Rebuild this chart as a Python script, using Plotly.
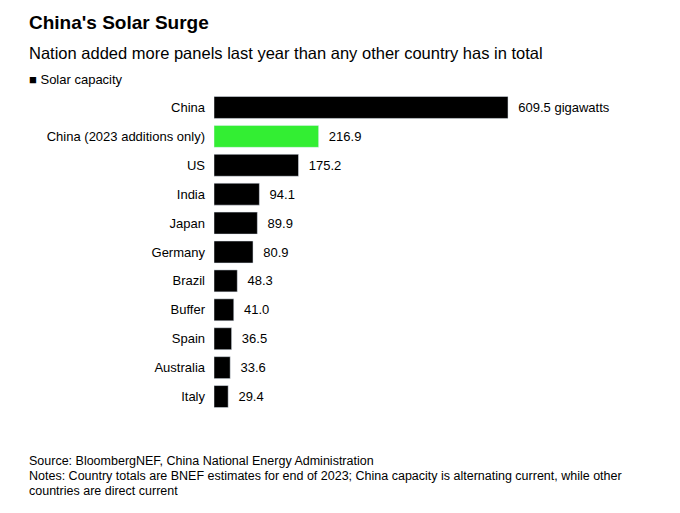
import plotly.graph_objects as go

categories = ["China", "China (2023 additions only)", "US", "India", "Japan", "Germany",
              "Brazil", "Buffer", "Spain", "Australia", "Italy"]
values = [609.5, 216.9, 175.2, 94.1, 89.9, 80.9, 48.3, 41.0, 36.5, 33.6, 29.4]
labels = ["609.5 gigawatts", "216.9", "175.2", "94.1", "89.9", "80.9", "48.3", "41.0", "36.5", "33.6", "29.4"]
colors = ["#000000", "#33ee33"] + ["#000000"] * 9

OFF = 8
fig = go.Figure(go.Bar(
    y=categories, x=values, orientation="h", marker_color=colors,
    text=["  " + t for t in labels], textposition="outside", cliponaxis=False,
    textfont=dict(size=13, color="#000"), showlegend=False,
))
font = "Liberation Sans, Arial, sans-serif"
L, T, B = 214 - OFF, 92.5 - OFF, 101.5 + OFF
PW, PH = 680 - L, 513 - T - B
fig.update_layout(
    width=680, height=513, plot_bgcolor="white", paper_bgcolor="white",
    margin=dict(l=L, r=0, t=T, b=B),
    font=dict(family=font, color="#000"),
    bargap=0.24,
    xaxis=dict(range=[0, PW / 0.4824], visible=False),
    yaxis=dict(autorange="reversed", ticks="", tickfont=dict(size=13), ticklabelstandoff=8, showgrid=False),
)
texts = [
    ("<b>China's Solar Surge</b>", 22, 19),
    ("Nation added more panels last year than any other country has in total", 52, 16.5),
    ("■ Solar capacity", 79, 13),
    ("Source: BloombergNEF, China National Energy Administration", 462, 12.5),
    ("Notes: Country totals are BNEF estimates for end of 2023; China capacity is alternating current, while other", 477, 12.5),
    ("countries are direct current", 492, 12.5),
]
anns = []
for t, y, s in texts:
    anns.append(dict(text=t, xref="paper", yref="paper", showarrow=False,
                     x=(27 - OFF - L) / PW, y=1 - (y - OFF - T) / PH,
                     xanchor="left", yanchor="middle", font=dict(size=s, color="#000")))
fig.update_layout(annotations=anns)
fig.write_html("out.html")
